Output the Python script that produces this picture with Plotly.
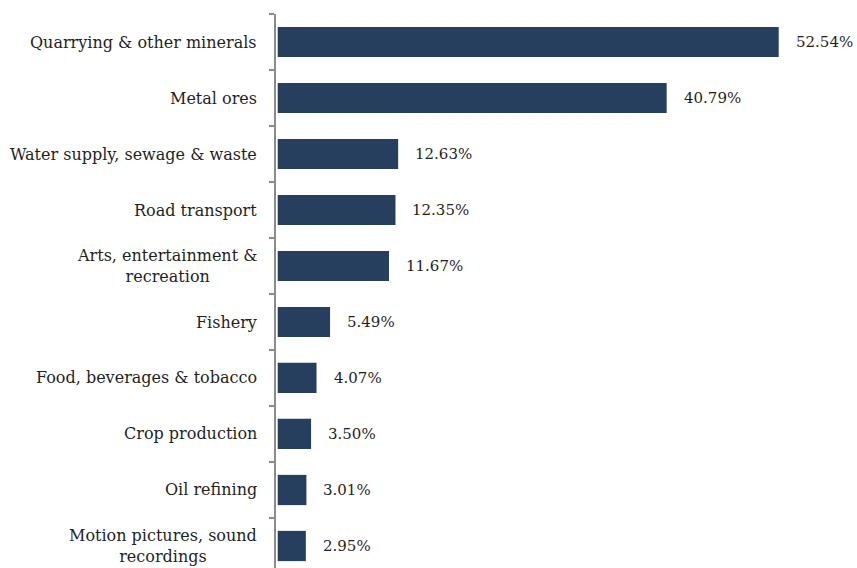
import plotly.graph_objects as go

categories = [
    "Quarrying & other minerals",
    "Metal ores",
    "Water supply, sewage & waste",
    "Road transport",
    "Arts, entertainment &<br>recreation",
    "Fishery",
    "Food, beverages & tobacco",
    "Crop production",
    "Oil refining",
    "Motion pictures, sound<br>recordings",
]
shares = [52.54, 40.79, 12.63, 12.35, 11.67, 5.49, 4.07, 3.50, 3.01, 2.95]

BAR_COLOR = "#263f5f"
AXIS_COLOR = "#8c8c8c"
TEXT_COLOR = "#1f1f1f"
FONT = "DejaVu Serif"

fig = go.Figure(
    go.Bar(
        x=shares,
        y=categories,
        orientation="h",
        marker=dict(color=BAR_COLOR, line=dict(width=0)),
        width=0.54,
        hoverinfo="skip",
    )
)

annotations = []
for cat, val in zip(categories, shares):
    # category label, centred lines, right edge just left of the axis
    annotations.append(dict(
        xref="paper", x=0, y=cat, yref="y",
        text=cat, showarrow=False, xanchor="right", yanchor="middle",
        align="center", xshift=-17,
        font=dict(family=FONT, size=16, color=TEXT_COLOR),
    ))
    # value label beyond the bar end
    annotations.append(dict(
        x=val, y=cat, xref="x", yref="y",
        text=f"{val:.2f}%", showarrow=False, xanchor="left", yanchor="middle",
        xshift=15,
        font=dict(family=FONT, size=15, color=TEXT_COLOR),
    ))

fig.update_layout(
    width=857,
    height=568,
    margin=dict(l=276, r=0, t=14, b=0),
    paper_bgcolor="white",
    plot_bgcolor="white",
    font=dict(family=FONT),
    showlegend=False,
    annotations=annotations,
    xaxis=dict(
        range=[-0.18, 60.75],
        visible=False,
        showgrid=False,
        zeroline=False,
    ),
    yaxis=dict(
        type="category",
        range=[9.393, -0.5],
        showline=True,
        linecolor=AXIS_COLOR,
        linewidth=2,
        ticks="outside",
        ticklen=5,
        tickwidth=2,
        tickcolor=AXIS_COLOR,
        tickson="boundaries",
        showticklabels=False,
        showgrid=False,
        zeroline=False,
    ),
)

fig.write_html("out.html")
